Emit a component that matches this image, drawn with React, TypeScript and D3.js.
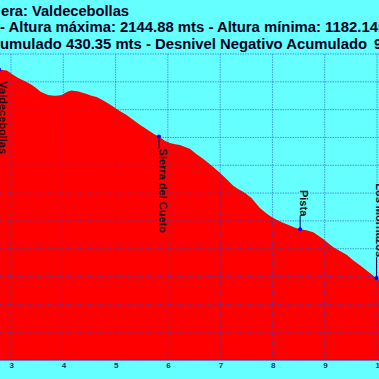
import React from "react";
import * as d3 from "d3";

// Profile data: distance (km) and altitude (m)
const kms = [2.77, 2.79, 2.92, 3.04, 3.14, 3.24, 3.32, 3.4, 3.48, 3.56, 3.64, 3.71, 3.78, 3.84, 3.91, 3.97, 4.02, 4.07, 4.12, 4.16, 4.22, 4.29, 4.37, 4.45, 4.54, 4.64, 4.73, 4.83, 4.93, 5.02, 5.12, 5.21, 5.34, 5.47, 5.56, 5.66, 5.75, 5.83, 5.94, 6.04, 6.14, 6.23, 6.33, 6.42, 6.55, 6.68, 6.84, 7.0, 7.13, 7.25, 7.35, 7.44, 7.52, 7.6, 7.68, 7.76, 7.84, 7.92, 8.0, 8.08, 8.19, 8.3, 8.41, 8.53, 8.65, 8.78, 8.88, 8.97, 9.07, 9.16, 9.29, 9.42, 9.55, 9.68, 9.84, 9.99, 10.15, 10.3];
const alts = [2144.88, 2143, 2141, 2125, 2114, 2105, 2097, 2089, 2078, 2065, 2058, 2053, 2051, 2050, 2051, 2053, 2058, 2063, 2067, 2069, 2067, 2065, 2061, 2056, 2050, 2045, 2036, 2026, 2014, 2002, 1991, 1981, 1963, 1945, 1934, 1921, 1911, 1903, 1888, 1880, 1876, 1873, 1866, 1859, 1840, 1823, 1798, 1772, 1749, 1726, 1714, 1705, 1694, 1682, 1664, 1646, 1634, 1622, 1612, 1604, 1594, 1586, 1577, 1570, 1566, 1559, 1547, 1535, 1520, 1506, 1492, 1478, 1458, 1440, 1416, 1394, 1377, 1360];

// Waypoints
const wpNames = ["Valdecebollas", "Sierra del Cueto", "Pista", "Los Mornazos"];
const wpKm = [2.77, 5.83, 8.53, 9.99];
const wpAlt = [2144.88, 1903, 1570, 1394];
const wpSide = ["below", "below", "above", "above"];

const xTicks = [3, 4, 5, 6, 7, 8, 9, 10];
const yTicks = [1100, 1200, 1300, 1400, 1500, 1600, 1700, 1800, 1900, 2000, 2100, 2200];

// Title lines (visible parts), with the tail that runs past the right edge
const titleMain = [
  "era: Valdecebollas",
  "- Altura máxima: 2144.88 mts - Altura mínima: 1182.14",
  "umulado 430.35 mts - Desnivel Negativo Acumulado",
];
const titleTail = ["", " mts", "9"];

const W = 379;
const H = 379;

export default function App() {
  const x = d3.scaleLinear().domain([3, 10]).range([11, 377]);
  const y = d3.scaleLinear().domain([1100, 2200]).range([360, 54]);
  const pts = kms.map((k, i) => [k, alts[i]] as [number, number]);
  const area = d3
    .area<[number, number]>()
    .x((d) => x(d[0]))
    .y0(y(1100))
    .y1((d) => y(d[1]));
  const gapAbove = [0, 0, 13, 21];
  const titleStart = [1, 0, 0];
  const titleLen = [128, 378, 367];
  const tailX = [0, 378, 374];

  return (
    <svg
      width={W}
      height={H}
      style={{ position: "absolute", left: 0, top: 0, fontFamily: "Arial, 'Liberation Sans', sans-serif" }}
    >
      <rect x={0} y={0} width={W} height={H} fill="#66FFFF" />
      <path d={area(pts) || ""} fill="#FF0000" />
      {/* grid */}
      {yTicks.map((t) => (
        <line key={"h" + t} x1={0} x2={W} y1={y(t)} y2={y(t)} stroke="#2244cc" strokeOpacity={0.55} strokeWidth={1} strokeDasharray="1.5,1" />
      ))}
      {xTicks.map((t) => (
        <line key={"v" + t} x1={x(t)} x2={x(t)} y1={y(2200)} y2={y(1100)} stroke="#2244cc" strokeOpacity={0.55} strokeWidth={1} strokeDasharray="1.5,1" />
      ))}
      <line x1={0} x2={W} y1={y(1100)} y2={y(1100)} stroke="#6622aa" strokeWidth={1} />
      {/* x tick labels */}
      {xTicks.map((t) => (
        <text key={"t" + t} x={x(t) - 1.5} y={368} fontSize={8} fontWeight="bold" fill="#1a3a5a">
          {t}
        </text>
      ))}
      {/* waypoints */}
      {wpNames.map((n, i) => {
        const px = x(wpKm[i]);
        const py = y(wpAlt[i]);
        const below = wpSide[i] === "below";
        const ly = below ? py + 12 : py - gapAbove[i];
        return (
          <g key={n}>
            <line x1={px} x2={px} y1={py} y2={ly} stroke="#000066" strokeWidth={1} />
            <circle cx={px} cy={py} r={2} fill="#0000ff" />
            <text
              transform={`translate(${px},${ly}) rotate(90)`}
              fontSize={11}
              fontWeight="bold"
              fill="#111122"
              textAnchor={below ? "start" : "end"}
            >
              {n}
            </text>
          </g>
        );
      })}
      {/* title */}
      {titleMain.map((l, i) => (
        <g key={"l" + i}>
          <text
            x={titleStart[i]}
            y={15.5 + i * 16.5}
            fontSize={14}
            fontWeight="bold"
            fill="#000022"
            textLength={titleLen[i]}
            lengthAdjust="spacingAndGlyphs"
          >
            {l}
          </text>
          {titleTail[i] ? (
            <text x={tailX[i]} y={15.5 + i * 16.5} fontSize={14} fontWeight="bold" fill="#000022">
              {titleTail[i]}
            </text>
          ) : null}
        </g>
      ))}
    </svg>
  );
}
